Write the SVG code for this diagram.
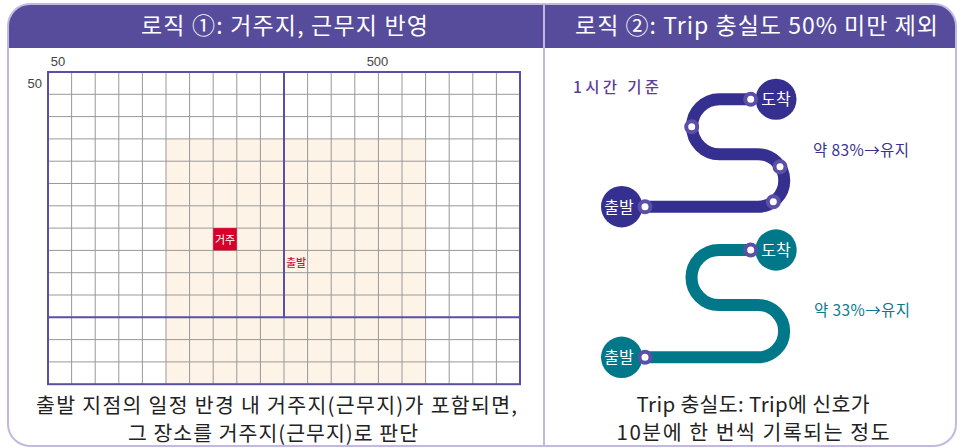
<svg xmlns="http://www.w3.org/2000/svg" width="962" height="448" viewBox="0 0 962 448">
<style>
.frame{fill:none;stroke:#c3b8e0;stroke-width:2}
.hdr{fill:#574c9c}
.htext{font-family:"Noto Sans CJK KR","Noto Sans",sans-serif;font-size:23px;fill:#fff;text-anchor:middle}
.grid{fill:none;stroke:#999;stroke-width:1}
.pline{fill:none;stroke:#5a4fa6;stroke-width:2}
.axis{font-family:"Liberation Sans",Arial,sans-serif;font-size:13px;fill:#444}
.cap{font-family:"Noto Sans CJK KR","Noto Sans",sans-serif;font-size:20.5px;fill:#222;text-anchor:middle}
.track{fill:none;stroke-width:12;stroke-linecap:butt}
.dot{fill:#fff;stroke:#5b4fa8;stroke-width:4}
.ntext{font-family:"Noto Sans CJK KR","Noto Sans",sans-serif;font-size:16px;fill:#fff;text-anchor:middle}
.note{font-family:"Noto Sans CJK KR","Noto Sans",sans-serif;font-size:15.5px}
</style>

<!-- frame and headers -->
<g id="frame">
  <path class="hdr" d="M8 48 V26 A22 22 0 0 1 30 4 H934 A22 22 0 0 1 956 26 V48 Z"/>
  <rect class="frame" x="8" y="4" width="948" height="442" rx="22" ry="22"/>
  <line x1="544" y1="4" x2="544" y2="446" stroke="#c3b8e0" stroke-width="2"/>
</g>
<g id="header-left"><text class="htext" x="284.5" y="33.5" textLength="287" lengthAdjust="spacing">로직 ①: 거주지, 근무지 반영</text></g>
<g id="header-right"><text class="htext" x="756.5" y="33.5" textLength="363" lengthAdjust="spacing">로직 ②: Trip 충실도 50% 미만 제외</text></g>

<!-- grid -->
<g id="grid">
  <rect x="48" y="72" width="472" height="312.2" fill="#fff"/>
  <rect x="166" y="138.9" width="259.6" height="245.3" fill="#fdf4e7"/>
  <path class="grid" d="M71.6 72V384.2M95.2 72V384.2M118.8 72V384.2M142.4 72V384.2M166 72V384.2M189.6 72V384.2M213.2 72V384.2M236.8 72V384.2M260.4 72V384.2M307.6 72V384.2M331.2 72V384.2M354.8 72V384.2M378.4 72V384.2M402 72V384.2M425.6 72V384.2M449.2 72V384.2M472.8 72V384.2M496.4 72V384.2M284 317.3V384.2
  M48 94.3H520M48 116.6H520M48 138.9H520M48 161.2H520M48 183.5H520M48 205.8H520M48 228.1H520M48 250.4H520M48 272.7H520M48 295H520M48 339.6H520M48 361.9H520"/>
  <rect class="pline" x="48" y="72" width="472" height="312.2"/>
  <path class="pline" d="M284 72V317.3M48 317.3H520"/>
  <text class="axis" x="58" y="66" text-anchor="middle">50</text>
  <text class="axis" x="377.5" y="66" text-anchor="middle">500</text>
  <text class="axis" x="42" y="88" text-anchor="end">50</text>
</g>
<g id="node-home">
  <rect x="213.2" y="228.1" width="23.6" height="22.3" fill="#d6002b"/>
  <text x="225" y="243.5" text-anchor="middle" font-family="'Noto Sans CJK KR',sans-serif" font-size="11" fill="#fff">거주</text>
</g>
<g id="node-depart">
  <text x="286" y="266.5" font-family="'Noto Sans CJK KR',sans-serif" font-size="11" font-weight="500" fill="#d2103c">출발</text>
</g>
<g id="caption-left">
  <text class="cap" x="276.5" y="412.5" textLength="481" lengthAdjust="spacing">출발 지점의 일정 반경 내 거주지(근무지)가 포함되면,</text>
  <text class="cap" x="273" y="440.5" textLength="290" lengthAdjust="spacing">그 장소를 거주지(근무지)로 판단</text>
</g>

<!-- right panel -->
<g id="label-hour"><text class="note" x="573" y="92.5" font-size="18" font-weight="500" fill="#5c3e98" textLength="86" lengthAdjust="spacing">1시간 기준</text></g>

<g id="connectors">
  <path class="track" stroke="#35308f" d="M750.7 99.3H719.5A27.45 27.45 0 0 0 719.5 154.2H758A26.25 26.25 0 0 1 758 206.7H645"/>
  <path class="track" stroke="#00788a" d="M750.7 250H719A27.5 27.5 0 0 0 719 305H758A26.15 26.15 0 0 1 758 357.3H645"/>
</g>

<g id="trip1-end">
  <circle cx="776" cy="99.3" r="20.5" fill="#35308f"/>
  <text class="ntext" x="776" y="105">도착</text>
</g>
<g id="trip1-start">
  <circle cx="621.7" cy="206.7" r="20.7" fill="#35308f"/>
  <text class="ntext" x="619" y="212.5">출발</text>
</g>
<g id="trip1-dots">
  <circle class="dot" cx="750.7" cy="99.3" r="5.5"/>
  <circle class="dot" cx="691.7" cy="126.7" r="5.5"/>
  <circle class="dot" cx="780" cy="166.7" r="5.5"/>
  <circle class="dot" cx="773.3" cy="201.7" r="5.5"/>
  <circle class="dot" cx="645" cy="206.7" r="5.5"/>
</g>
<g id="trip1-label"><text class="note" x="813" y="156" fill="#3b3290" textLength="96" lengthAdjust="spacing">약 83%→유지</text></g>

<g id="trip2-end">
  <circle cx="776" cy="250" r="20.7" fill="#00788a"/>
  <text class="ntext" x="776" y="255.8">도착</text>
</g>
<g id="trip2-start">
  <circle cx="621.7" cy="357.3" r="20.7" fill="#00788a"/>
  <text class="ntext" x="619" y="363">출발</text>
</g>
<g id="trip2-dots">
  <circle class="dot" cx="750.7" cy="250" r="5.5"/>
  <circle class="dot" cx="645" cy="357.3" r="5.5"/>
</g>
<g id="trip2-label"><text class="note" x="814" y="316" fill="#0a7a8c" textLength="96" lengthAdjust="spacing">약 33%→유지</text></g>

<g id="caption-right">
  <text class="cap" x="753" y="412" textLength="233" lengthAdjust="spacing">Trip 충실도: Trip에 신호가</text>
  <text class="cap" x="753" y="439.5" textLength="273" lengthAdjust="spacing">10분에 한 번씩 기록되는 정도</text>
</g>
</svg>
